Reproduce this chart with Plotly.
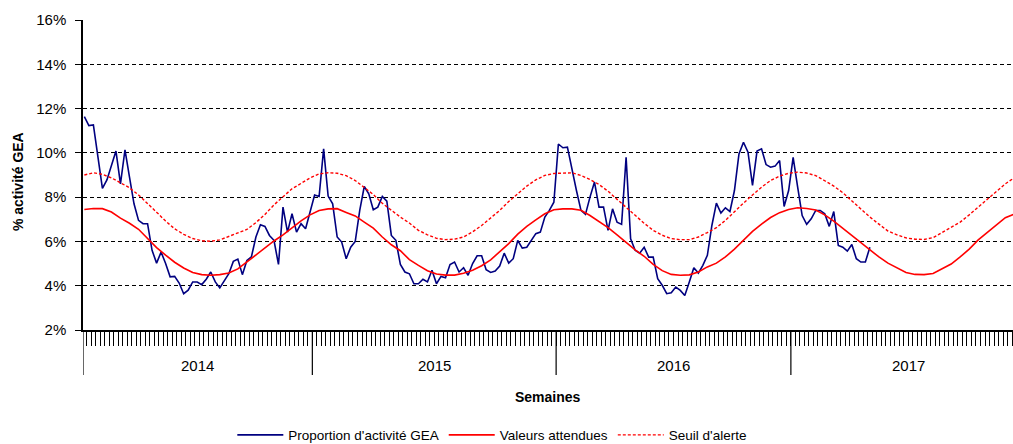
import plotly.graph_objects as go

# ---- data ----
years = ["2014", "2015", "2016", "2017"]
weeks_per_year = [51, 54, 52, 52]

gea = [11.64, 11.23, 11.26, 9.9, 8.4, 8.78, 9.43, 10.08, 8.6, 10.14,
       8.9, 7.7, 6.95, 6.8, 6.8, 5.6, 5.02, 5.52, 5.0, 4.4,
       4.42, 4.12, 3.64, 3.8, 4.17, 4.17, 4.05, 4.29, 4.62, 4.17,
       3.9, 4.24, 4.54, 5.1, 5.2, 4.5, 5.14, 5.3, 6.2, 6.75,
       6.68, 6.27, 6.05, 4.96, 7.55, 6.42, 7.25, 6.42, 6.8, 6.57,
       7.4, 8.1, 8.03, 10.18, 8.05, 7.7, 6.2, 5.97, 5.22, 5.74,
       6.0, 7.4, 8.48, 8.15, 7.43, 7.55, 8.03, 7.82, 6.27, 6.05,
       4.96, 4.62, 4.54, 4.09, 4.09, 4.29, 4.17, 4.7, 4.09, 4.42,
       4.36, 4.96, 5.07, 4.62, 4.81, 4.47, 5.0, 5.35, 5.35, 4.72,
       4.6, 4.66, 4.89, 5.47, 5.02, 5.22, 6.05, 5.7, 5.74, 6.05,
       6.35, 6.42, 7.1, 7.4, 7.77, 10.4, 10.23, 10.26, 9.2, 8.3,
       7.4, 7.22, 8.0, 8.68, 7.55, 7.55, 6.5, 7.47, 6.87, 6.77,
       9.8, 6.12, 5.6, 5.47, 5.74, 5.29, 5.29, 4.32, 4.02, 3.64,
       3.68, 3.94, 3.79, 3.56, 4.17, 4.81, 4.57, 4.92, 5.37, 6.72,
       7.73, 7.28, 7.52, 7.35, 8.3, 9.95, 10.48, 10.03, 8.53, 10.08,
       10.18, 9.47, 9.35, 9.4, 9.65, 7.58, 8.3, 9.8, 8.45, 7.17,
       6.77, 7.02, 7.4, 7.4, 7.25, 6.68, 7.35, 5.82, 5.74, 5.56,
       5.86, 5.22, 5.07, 5.07, 5.74]

model_weeks = list(range(0, 207, 2))
attendues = [7.44, 7.49, 7.48, 7.33, 7.05, 6.82, 6.55, 6.15, 5.72, 5.38,
             5.06, 4.8, 4.6, 4.5, 4.47, 4.5, 4.57, 4.76, 5.08, 5.42,
             5.72, 6.02, 6.3, 6.63, 6.93, 7.2, 7.4, 7.47, 7.48, 7.31,
             7.15, 6.87, 6.6, 6.2, 5.85, 5.58, 5.18, 4.92, 4.68, 4.53,
             4.48, 4.48, 4.56, 4.7, 4.9, 5.17, 5.52, 5.9, 6.33, 6.68,
             6.97, 7.25, 7.43, 7.47, 7.47, 7.41, 7.17, 6.9, 6.62, 6.3,
             5.95, 5.62, 5.33, 4.96, 4.68, 4.51, 4.47, 4.49, 4.62, 4.85,
             5.02, 5.3, 5.65, 6.07, 6.45, 6.78, 7.08, 7.3, 7.44, 7.52,
             7.49, 7.42, 7.2, 6.92, 6.6, 6.25, 5.92, 5.62, 5.3, 5.02,
             4.8, 4.6, 4.51, 4.5, 4.55, 4.75, 4.98, 5.3, 5.65, 6.07,
             6.4, 6.72, 7.07, 7.24]
seuil = [9.0, 9.1, 9.03, 8.87, 8.65, 8.42, 8.1, 7.73, 7.32, 6.92,
         6.57, 6.32, 6.13, 6.03, 6.01, 6.07, 6.22, 6.37, 6.54, 6.85,
         7.22, 7.65, 8.03, 8.38, 8.62, 8.87, 9.05, 9.1, 9.08, 8.97,
         8.75, 8.45, 8.12, 7.72, 7.4, 7.1, 6.83, 6.5, 6.3, 6.14,
         6.08, 6.1, 6.2, 6.43, 6.72, 7.05, 7.4, 7.8, 8.15, 8.5,
         8.78, 8.98, 9.07, 9.1, 9.1, 8.98, 8.8, 8.57, 8.27, 7.9,
         7.53, 7.15, 6.82, 6.5, 6.28, 6.13, 6.08, 6.08, 6.2, 6.4,
         6.62, 6.95, 7.35, 7.73, 8.1, 8.45, 8.75, 8.95, 9.08, 9.13,
         9.09, 8.97, 8.74, 8.5, 8.2, 7.83, 7.45, 7.1, 6.78, 6.47,
         6.3, 6.16, 6.1, 6.09, 6.17, 6.4, 6.62, 6.87, 7.2, 7.55,
         7.9, 8.25, 8.6, 8.88]

gea_weeks = list(range(len(gea)))

FONT = "Liberation Sans, Arial, sans-serif"

fig = go.Figure()
fig.add_trace(go.Scatter(x=gea_weeks, y=gea, mode="lines", name="Proportion d'activité GEA",
                         line=dict(color="#000080", width=1.6)))
fig.add_trace(go.Scatter(x=model_weeks, y=attendues, mode="lines", name="Valeurs attendues",
                         line=dict(color="#FF0000", width=1.6)))
fig.add_trace(go.Scatter(x=model_weeks, y=seuil, mode="lines", name="Seuil d'alerte",
                         line=dict(color="#FF0000", width=1.4, dash="3px,2px")))

x_lo, x_hi = -0.3, 205.7

# year separators and labels
boundaries = [x_lo]
acc = -0.5
for n in weeks_per_year:
    acc += n
    boundaries.append(acc)

shapes = []
for b in boundaries[:-1]:
    shapes.append(dict(type="line", xref="x", yref="paper", x0=b, x1=b, y0=0, y1=-0.145,
                       line=dict(color="black", width=1.2)))
annotations = []
for i, yr in enumerate(years):
    c = (boundaries[i] + boundaries[i + 1]) / 2
    annotations.append(dict(x=c, y=-0.115, xref="x", yref="paper", text=yr, showarrow=False,
                            font=dict(size=15, color="black", family=FONT), yanchor="middle"))
annotations.append(dict(x=(548 - 83) / 930, y=-0.216, xref="paper", yref="paper",
                        text="<b>Semaines</b>", showarrow=False, yanchor="middle",
                        font=dict(size=14, color="black", family=FONT)))
annotations.append(dict(x=-0.07, y=0.48, xref="paper", yref="paper", text="<b>% activité GEA</b>",
                        showarrow=False, textangle=-90, xanchor="center", yanchor="middle",
                        font=dict(size=14, color="black", family=FONT)))

fig.update_layout(
    width=1013, height=444,
    margin=dict(l=83, r=0, t=20, b=114, autoexpand=False),
    plot_bgcolor="white", paper_bgcolor="white",
    font=dict(family=FONT, color="black", size=14),
    showlegend=True,
    legend=dict(orientation="h", xref="container", yref="container", x=0.486, y=0.02,
                xanchor="center", yanchor="middle", font=dict(size=13.5, family=FONT),
                itemwidth=46, tracegroupgap=0),
    shapes=shapes, annotations=annotations,
    xaxis=dict(range=[x_lo, x_hi], tickmode="linear", tick0=0.5, dtick=1, ticks="outside",
               ticklen=14, tickcolor="black", tickwidth=1, showticklabels=False, automargin=False,
               showgrid=False, zeroline=False, showline=True, linecolor="black", linewidth=1.5),
    yaxis=dict(range=[2, 16], tickmode="linear", tick0=2, dtick=2, ticksuffix="%", automargin=False,
               showgrid=True, gridcolor="black", gridwidth=1, griddash="4px,3px",
               zeroline=False, showline=True, linecolor="black", linewidth=1.5,
               ticks="outside", ticklen=6, tickcolor="black", ticklabelstandoff=6,
               tickfont=dict(size=15, family=FONT, color="black")),
)

fig.write_html("out.html", config={"displayModeBar": False},
               post_script="document.body.style.margin='0';document.body.style.overflow='hidden';")
